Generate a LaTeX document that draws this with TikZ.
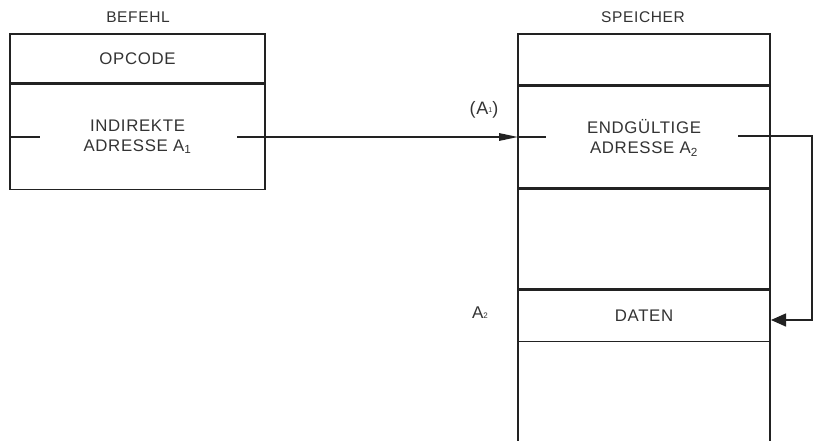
\documentclass[tikz,border=0pt]{standalone}
\usepackage{fontspec}
\setmainfont{Liberation Sans}[LetterSpace=4]
\usetikzlibrary{arrows.meta}
\definecolor{ink}{HTML}{222222}
\definecolor{txt}{HTML}{333333}
\begin{document}
\begin{tikzpicture}[x=1pt,y=-1pt,
  cell/.style={draw=ink, line width=1.8pt, inner sep=0pt, outer sep=0pt, text=txt, font=\fontsize{16.8}{19.5}\selectfont, align=center},
  lbl/.style={text=txt, font=\fontsize{15.5}{18}\selectfont, inner sep=0pt},
  wire/.style={draw=ink, line width=1.5pt},
  tipa/.style={-{Triangle[length=19pt,width=7.5pt]}},
  tipb/.style={-{Triangle[length=15pt,width=13pt]}}
]
\useasboundingbox (0,0) rectangle (813,441);
% BEFEHL
\node[lbl] (befehl) at (138,17) {BEFEHL};
\node[cell, minimum width=255pt, minimum height=49pt] (op) at (137.5,58.5) {OPCODE};
\node[cell, minimum width=255pt, minimum height=105pt] (ia) at (137.5,137) {INDIREKTE\\ADRESSE A\textsubscript{1}};
% SPEICHER
\node[lbl] (speicher) at (643,17) {SPEICHER};
\node[cell, minimum width=252pt, minimum height=51pt] (m1) at (644,59.5) {};
\node[cell, minimum width=252pt, minimum height=103pt] (m2) at (644,138) {ENDG\"ULTIGE\\ADRESSE A\textsubscript{2}};
\node[cell, minimum width=252pt, minimum height=101pt] (m3) at (644,238.5) {};
\node[cell, minimum width=252pt, minimum height=51pt] (m4) at (644,316) {DATEN};
\coordinate (m5a) at (518,441);
\coordinate (m5b) at (770,441);
\draw[wire, line width=1.8pt] (m4.south west) -- (m5a);
\draw[wire, line width=1.8pt] (m4.south east) -- (m5b);
% labels
\node[lbl, font=\fontsize{18}{20}\selectfont] (a1) at (484,110) {(A\raisebox{0.2ex}{\fontsize{7}{8}\selectfont 1})};
\node[lbl, font=\fontsize{17}{20}\selectfont] (a2) at (480,313) {A\raisebox{0.05ex}{\fontsize{8}{9}\selectfont 2}};
% field marks
\coordinate (iaL) at (40,137);
\coordinate (iaR) at (237,137);
\coordinate (m2L) at (546,137);
\coordinate (m2R) at (738,136);
\draw[wire, line width=1.2pt] (ia.west |- iaL) -- (iaL);
\draw[wire, line width=1.2pt] (iaR) -- (ia.east |- iaR);
\draw[wire, line width=1.2pt] (m2.west |- m2L) -- (m2L);
% arrow 1
\draw[wire, tipa] (ia.east |- iaR) -- (m2.west |- iaR);
% loop arrow
\coordinate (c1) at (812,136);
\coordinate (c2) at (812,320);
\coordinate (c3) at (771,320);
\draw[wire, tipb] (m2R) -- (c1) -- (c2) -- (c3);
\end{tikzpicture}
\end{document}
